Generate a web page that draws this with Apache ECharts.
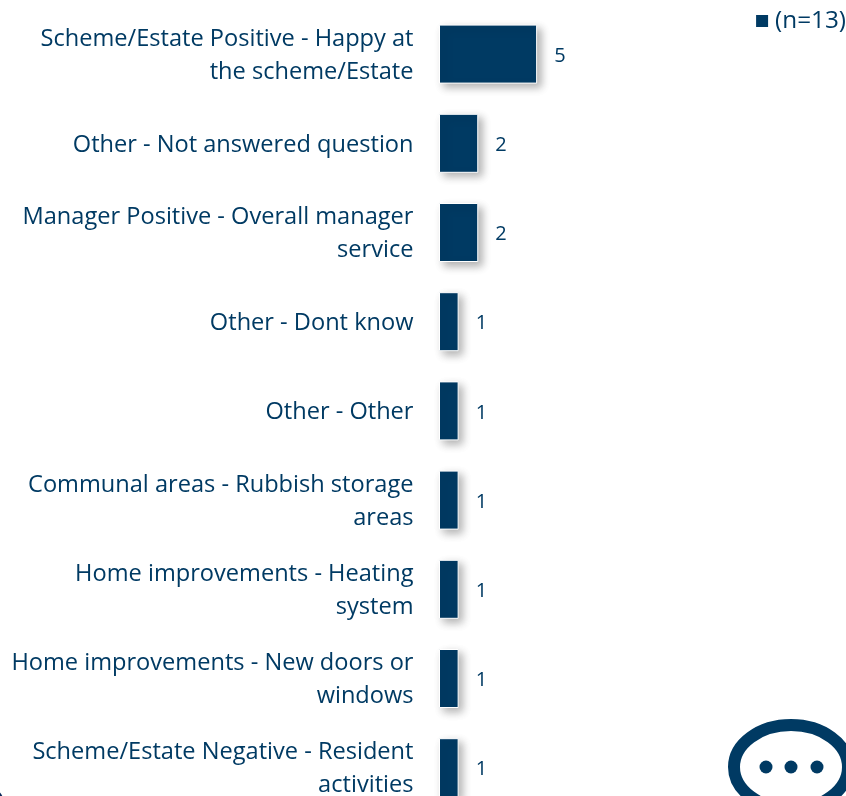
<!DOCTYPE html>
<html>
<head>
<meta charset="utf-8">
<style>html,body{margin:0;padding:0;background:#fff;overflow:hidden}#c{width:846px;height:796px}</style>
<script src="https://cdn.jsdelivr.net/npm/echarts@6/dist/echarts.min.js"></script>
</head>
<body>
<div id="c"></div>
<script>
const categories = [
  "Scheme/Estate Positive - Happy at\nthe scheme/Estate",
  "Other - Not answered question",
  "Manager Positive - Overall manager\nservice",
  "Other - Dont know",
  "Other - Other",
  "Communal areas - Rubbish storage\nareas",
  "Home improvements - Heating\nsystem",
  "Home improvements - New doors or\nwindows",
  "Scheme/Estate Negative - Resident\nactivities"
];
const values = [5, 2, 2, 1, 1, 1, 1, 1, 1];
const seriesName = "(n=13)";
const navy = "#003a63";
const chart = echarts.init(document.getElementById("c"), null, {renderer: "canvas"});
chart.setOption({
  animation: false,
  backgroundColor: "#fff",
  textStyle: {fontFamily: "Open Sans"},
  grid: {left: 439, top: 9.5, right: 14.5, bottom: -16.3, outerBoundsMode: "none", containLabel: false},
  legend: {
    show: true, right: 0, top: 9, icon: "rect", itemWidth: 14, itemHeight: 14, itemGap: 9,
    textStyle: {color: navy, fontSize: 24.3, fontFamily: "Open Sans", padding: [0, 0, 0, 1]},
    padding: 0
  },
  xAxis: {type: "value", min: 0, max: 20, show: false},
  yAxis: {
    type: "category", inverse: true, data: categories,
    axisLine: {show: false}, axisTick: {show: false},
    axisLabel: {
      margin: 25.5, align: "right", padding: [3, 0, 0, 0],
      formatter: v => v.split("\n").map(l => "{a|" + l + "}").join("\n"),
      rich: {a: {color: navy, fontSize: 23.6, fontFamily: "Open Sans", lineHeight: 33, align: "right"}}
    }
  },
  series: [{
    name: seriesName, type: "bar", data: values, barWidth: 59,
    itemStyle: {
      color: navy, borderColor: "#fff", borderWidth: 1,
      shadowColor: "rgba(0,0,0,0.3)", shadowBlur: 8, shadowOffsetX: 4, shadowOffsetY: 4
    },
    label: {show: true, position: "right", distance: 17, offset: [0, 2], color: navy, fontSize: 20, fontFamily: "Open Sans"}
  }],
  graphic: [
    {type: "ellipse", shape: {cx: 791, cy: 767, rx: 57, ry: 42}, style: {fill: "#fff", stroke: navy, lineWidth: 12}},
    {type: "circle", shape: {cx: 766, cy: 767, r: 6.5}, style: {fill: navy}},
    {type: "circle", shape: {cx: 791, cy: 767, r: 6.5}, style: {fill: navy}},
    {type: "circle", shape: {cx: 817, cy: 767, r: 6.5}, style: {fill: navy}},
    {type: "circle", shape: {cx: -8, cy: 800, r: 11}, style: {fill: "#0b2a5b"}}
  ]
});
</script>
</body>
</html>
